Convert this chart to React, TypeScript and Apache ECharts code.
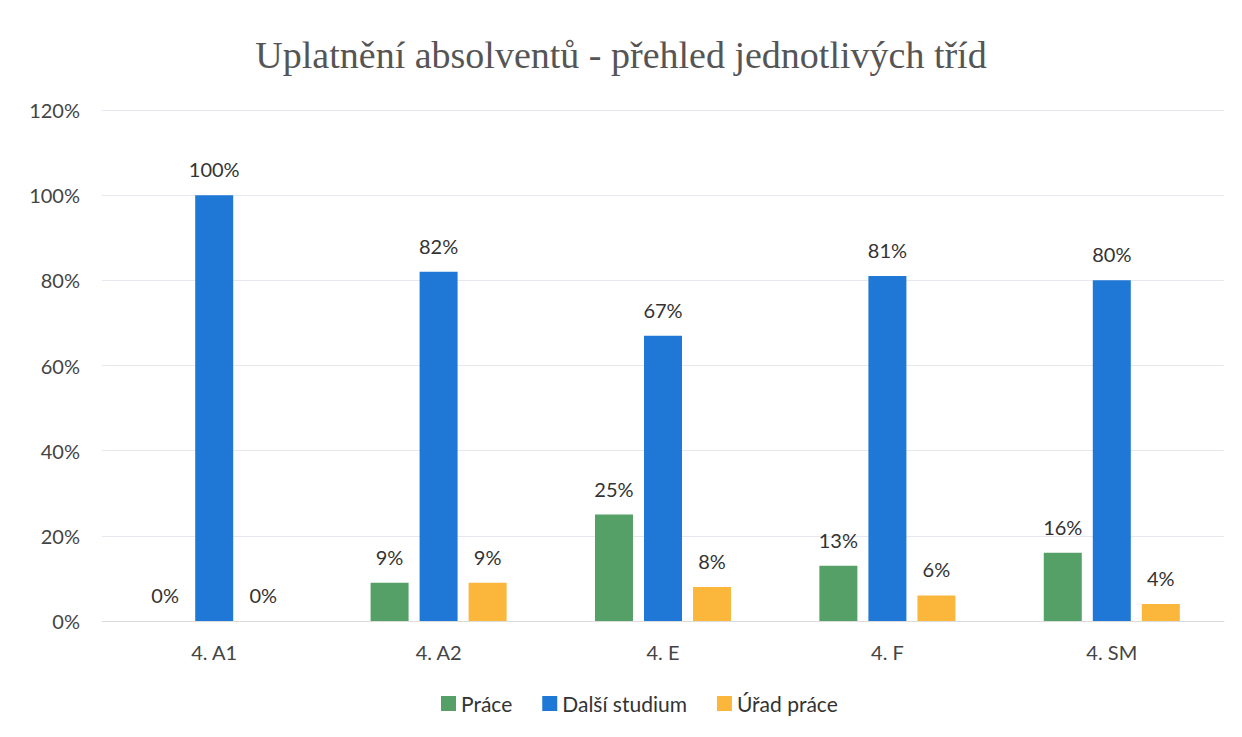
import React, { useEffect, useRef } from "react";
import * as echarts from "echarts";

const categories = ["4. A1", "4. A2", "4. E", "4. F", "4. SM"];
const prace = [0, 9, 25, 13, 16];
const dalsiStudium = [100, 82, 67, 81, 80];
const uradPrace = [0, 9, 8, 6, 4];
const yTicks = [0, 20, 40, 60, 80, 100, 120];

const FONT = "Lato, 'Open Sans', sans-serif";

export default function App() {
  const ref = useRef<HTMLDivElement>(null);
  useEffect(() => {
    if (!ref.current) return;
    const chart = echarts.init(ref.current, null, { renderer: "svg" });
    const label = {
      show: true,
      position: "top" as const,
      distance: 16,
      color: "#333",
      fontSize: 20,
      fontFamily: FONT,
      formatter: (p: any) => `${p.value}%`,
    };
    chart.setOption({
      animation: false,
      backgroundColor: "#fff",
      title: {
        text: "Uplatnění absolventů - přehled jednotlivých tříd",
        left: "center",
        top: 31,
        textStyle: {
          fontFamily: "'Liberation Serif', 'DejaVu Serif', serif",
          fontWeight: "normal",
          fontSize: 38,
          color: "#555",
        },
      },
      legend: {
        bottom: 18,
        left: 436,
        itemWidth: 15,
        itemHeight: 15,
        itemGap: 30,
        icon: "rect",
        textStyle: { fontFamily: FONT, fontSize: 21, color: "#333" },
        data: ["Práce", "Další studium", "Úřad práce"],
      },
      grid: { left: 102, right: 18, top: 110, bottom: 116, containLabel: false },
      xAxis: {
        type: "category",
        data: categories,
        axisLine: { show: true, lineStyle: { color: "#dcdcdc" } },
        axisTick: { show: false },
        axisLabel: { fontFamily: FONT, fontSize: 20, color: "#444", margin: 21 },
      },
      yAxis: {
        type: "value",
        min: yTicks[0],
        max: yTicks[yTicks.length - 1],
        interval: 20,
        axisLine: { show: false },
        axisTick: { show: false },
        splitLine: { lineStyle: { color: "#e6e8f0" } },
        axisLabel: {
          fontFamily: FONT,
          fontSize: 20,
          color: "#444",
          margin: 22,
          formatter: (v: number) => `${v}%`,
        },
      },
      series: [
        {
          name: "Práce",
          type: "bar",
          data: prace,
          barWidth: 38,
          barGap: "29%",
          itemStyle: { color: "#55a066" },
          label,
        },
        {
          name: "Další studium",
          type: "bar",
          data: dalsiStudium,
          barWidth: 38,
          barGap: "29%",
          itemStyle: { color: "#1f78d6" },
          label,
        },
        {
          name: "Úřad práce",
          type: "bar",
          data: uradPrace,
          barWidth: 38,
          barGap: "29%",
          itemStyle: { color: "#fbb73c" },
          label,
        },
      ],
    });
    return () => chart.dispose();
  }, []);
  return (
    <div
      ref={ref}
      style={{ position: "absolute", left: 0, top: 0, width: 1242, height: 737 }}
    />
  );
}
